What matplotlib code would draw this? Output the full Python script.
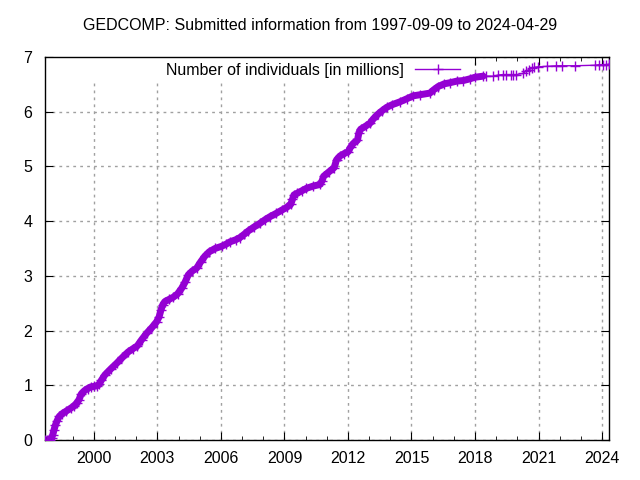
import matplotlib
matplotlib.use('Agg')
import matplotlib.pyplot as plt
from matplotlib.patches import Rectangle

# cumulative number of individuals (millions), x in decimal years
years = [1997.69, 1997.80, 1997.92, 1998.00, 1998.06, 1998.12, 1998.18, 1998.26, 1998.36, 1998.50,
         1998.70, 1998.90, 1999.05, 1999.20, 1999.30, 1999.40, 1999.55, 1999.70, 1999.85, 2000.00,
         2000.15, 2000.25, 2000.35, 2000.52, 2000.80, 2001.07, 2001.35, 2001.62, 2001.85, 2002.05,
         2002.25, 2002.49, 2002.75, 2002.96, 2003.08, 2003.17, 2003.25, 2003.35, 2003.55, 2003.75,
         2003.95, 2004.14, 2004.30, 2004.46, 2004.65, 2004.85, 2005.05, 2005.24, 2005.45, 2005.72,
         2006.03, 2006.25, 2006.42, 2006.70, 2006.90, 2007.10, 2007.29, 2007.55, 2007.84, 2008.10,
         2008.31, 2008.60, 2008.87, 2009.10, 2009.30, 2009.38, 2009.45, 2009.60, 2009.85, 2010.04,
         2010.35, 2010.68, 2010.78, 2010.85, 2011.10, 2011.35, 2011.46, 2011.62, 2011.80, 2012.01,
         2012.12, 2012.25, 2012.45, 2012.52, 2012.60, 2012.85, 2013.04, 2013.20, 2013.40, 2013.62,
         2013.83, 2014.10, 2014.45, 2014.80, 2015.08, 2015.40, 2015.87, 2016.05, 2016.26, 2016.55,
         2016.82, 2017.15, 2017.45, 2017.75, 2018.00, 2018.39,
         2018.50, 2018.86, 2019.10, 2019.33, 2019.45, 2019.70, 2019.80, 2019.96, 2020.28, 2020.43,
         2020.55, 2020.67, 2020.80, 2020.98, 2021.38, 2021.85, 2022.09, 2022.72, 2023.69, 2023.87,
         2024.03, 2024.19, 2024.33]
individuals = [0.00, 0.00, 0.00, 0.03, 0.10, 0.19, 0.27, 0.35, 0.43, 0.48,
               0.53, 0.58, 0.62, 0.68, 0.74, 0.84, 0.90, 0.94, 0.97, 0.98,
               0.99, 1.02, 1.09, 1.19, 1.30, 1.40, 1.51, 1.61, 1.67, 1.72,
               1.83, 1.95, 2.06, 2.16, 2.25, 2.38, 2.47, 2.53, 2.57, 2.61,
               2.67, 2.77, 2.88, 3.02, 3.09, 3.14, 3.26, 3.36, 3.44, 3.50,
               3.54, 3.58, 3.62, 3.66, 3.70, 3.76, 3.82, 3.89, 3.96, 4.03,
               4.08, 4.14, 4.20, 4.25, 4.31, 4.40, 4.48, 4.51, 4.56, 4.60,
               4.64, 4.67, 4.74, 4.82, 4.90, 4.98, 5.12, 5.19, 5.23, 5.27,
               5.35, 5.42, 5.48, 5.62, 5.68, 5.74, 5.79, 5.87, 5.95, 6.02,
               6.08, 6.13, 6.18, 6.24, 6.29, 6.31, 6.34, 6.40, 6.46, 6.51,
               6.53, 6.56, 6.57, 6.60, 6.63, 6.65,
               6.65, 6.65, 6.67, 6.68, 6.68, 6.68, 6.68, 6.68, 6.70, 6.75,
               6.77, 6.79, 6.81, 6.82, 6.83, 6.84, 6.84, 6.84, 6.85, 6.86,
               6.86, 6.86, 6.87]
dense_until = 2018.4  # before this submissions are so frequent the markers merge into a band

xtick_years = list(range(2000, 2025, 3))
minor_years = list(range(1998, 2025))
ytick_vals = list(range(0, 8))

color = '#9400d3'
fs = 11.5
plt.rcParams['font.family'] = ['Liberation Sans', 'DejaVu Sans']

fig = plt.figure(figsize=(6.4, 4.8), dpi=100)
ax = fig.add_axes([45 / 640, 1 - 440 / 480, 564 / 640, 383 / 480])

dense_x = [x for x in years if x <= dense_until]
dense_y = individuals[:len(dense_x)]
ax.plot(dense_x, dense_y, color=color, lw=5, solid_capstyle='round', zorder=2)
ax.plot(years, individuals, color=color, lw=1, marker='+', ms=6.5, mew=1,
        label='Number of individuals [in millions]', zorder=3)

ax.set_xlim(years[0], years[-1])
ax.set_ylim(0, 7)
ax.set_xticks(xtick_years)
ax.set_xticks(minor_years, minor=True)
ax.set_yticks(ytick_vals)
ax.tick_params(which='both', direction='in', top=True, right=True, labelsize=fs, colors='black')
ax.tick_params(axis='y', pad=9)
ax.tick_params(axis='x', pad=8)
ax.tick_params(which='major', length=6)
ax.tick_params(which='minor', length=3)
ax.grid(True, which='major', color='#a0a0a0', linestyle=(0, (2, 3)), lw=1)
ax.set_axisbelow(True)
for s in ax.spines.values():
    s.set_linewidth(1)

# key area blanks the grid like gnuplot does
ax.add_patch(Rectangle((0, 0.94), 0.755, 0.06, transform=ax.transAxes,
                       facecolor='white', edgecolor='none', zorder=1))

ax.legend(loc='center right', bbox_to_anchor=(0.736, 0.966), frameon=False,
          fontsize=fs, markerfirst=False, handlelength=2.8, numpoints=1,
          borderpad=0, borderaxespad=0, handletextpad=0.75)

fig.text(0.5, 1 - 26 / 480, 'GEDCOMP: Submitted information from 1997-09-09 to 2024-04-29',
         ha='center', va='center', fontsize=fs)

fig.savefig('out.png', dpi=100)
